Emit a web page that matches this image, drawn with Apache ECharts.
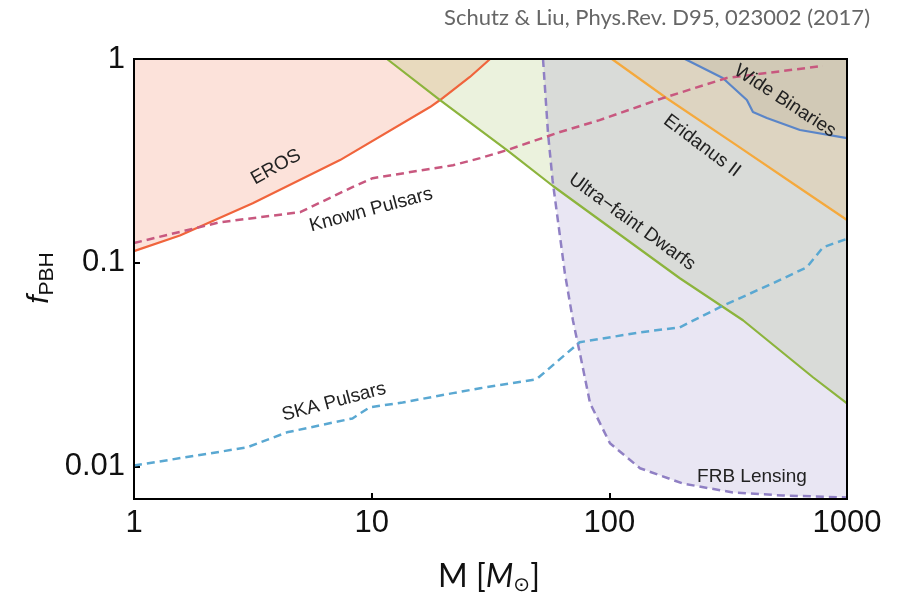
<!DOCTYPE html>
<html><head><meta charset="utf-8">
<script src="https://cdn.jsdelivr.net/npm/echarts@6.0.0/dist/echarts.min.js"></script>
<style>html,body{margin:0;padding:0;background:#fff}#c{width:898px;height:595px}</style>
</head><body><div id="c"></div>
<script>
// ---- data (mass in solar masses, f_PBH) ----
const erosM = [1, 1.56, 3.16, 7.36, 17.6, 19.4, 25.9, 31.5];
const erosF = [0.114, 0.136, 0.196, 0.319, 0.581, 0.629, 0.816, 1.0];

const ufdM = [11.6, 19.4, 37.1, 57.9, 198, 365, 719, 1000];
const ufdF = [1.0, 0.629, 0.357, 0.238, 0.0839, 0.0522, 0.0274, 0.0204];

const eriM = [102.5, 175, 340, 634, 1000];
const eriF = [1.0, 0.64, 0.38, 0.232, 0.162];

const wideM = [208, 300, 379, 402, 460, 634, 1000];
const wideF = [1.0, 0.807, 0.629, 0.549, 0.513, 0.448, 0.409];

const frbM = [52.6, 55.2, 57.7, 65, 70.3, 75.2, 83, 100.6, 134.6, 204, 331, 537, 1000];
const frbF = [1.0, 0.433, 0.254, 0.0888, 0.052, 0.0359, 0.0204, 0.0130, 0.0098, 0.00824, 0.00745, 0.0072, 0.00704];

const knownM = [1, 2.3, 5.0, 8.3, 10.1, 22, 28.6, 37.1, 62, 91, 168, 312, 460, 792];
const knownF = [0.125, 0.158, 0.177, 0.235, 0.26, 0.301, 0.326, 0.357, 0.438, 0.501, 0.643, 0.807, 0.854, 0.924];

const skaM = [1, 2.99, 4.4, 8.3, 9.8, 13.5, 22, 28.6, 49.4, 75, 134.6, 198, 292, 488, 678, 792, 1000];
const skaF = [0.0101, 0.0124, 0.0147, 0.0172, 0.0195, 0.0206, 0.0229, 0.0242, 0.0268, 0.0407, 0.0455, 0.0482, 0.0605, 0.0793, 0.095, 0.119, 0.131];

const xTicks = [1, 10, 100, 1000];
const yTicks = [0.01, 0.1, 1];
const xRange = [1, 1000];
const yRange = [0.00692, 1];

// ---- helpers ----
const lg = Math.log10;
function pts(M, F) { return M.map((m, i) => [lg(m), lg(F[i])]); }
function fmt(v) {
  const p = Math.round(v);
  const n = Math.pow(10, p);
  return p < 0 ? n.toFixed(-p) : String(n);
}

function fill(M, F, color) {
  return { type: 'line', data: pts(M, F), symbol: 'none', silent: true, z: 1,
    lineStyle: { width: 0, opacity: 0 }, areaStyle: { color: color, origin: 'end' } };
}
function line(M, F, color, width, dash) {
  return { type: 'line', data: pts(M, F), symbol: 'none', silent: true, z: 3,
    lineStyle: { color: color, width: width, type: dash ? dash : 'solid' } };
}

const chart = echarts.init(document.getElementById('c'), null, { renderer: 'canvas' });

const annFont = '19px "Liberation Sans", Arial, sans-serif';
function ann(text, x, y, deg) {
  return { type: 'text', x: x, y: y, rotation: deg * Math.PI / 180, z: 10,
    style: { text: text, font: annFont, fill: '#222', align: 'center', verticalAlign: 'middle',
      textAlign: 'center', textVerticalAlign: 'middle' } };
}

const option = {
  animation: false,
  backgroundColor: '#fff',
  grid: { left: 134, right: 51, top: 59, bottom: 96, show: true, borderColor: '#000', borderWidth: 2, z: 5 },
  xAxis: {
    type: 'value', position: 'bottom', min: lg(xRange[0]), max: lg(xRange[1]),
    axisLine: { show: true, onZero: false, lineStyle: { color: '#000', width: 2 } },
    axisTick: { show: true, inside: true, length: 6, lineStyle: { color: '#000', width: 2 }, customValues: xTicks.map(lg) },
    axisLabel: { customValues: xTicks.map(lg), formatter: v => fmt(v), fontFamily: '"Liberation Sans", Arial, sans-serif', fontSize: 31, color: '#111', margin: 9 },
    splitLine: { show: false }
  },
  yAxis: {
    type: 'value', position: 'left', min: lg(yRange[0]), max: lg(yRange[1]),
    axisLine: { show: true, onZero: false, lineStyle: { color: '#000', width: 2 } },
    axisTick: { show: true, inside: true, length: 6, lineStyle: { color: '#000', width: 2 }, customValues: yTicks.map(lg) },
    axisLabel: { customValues: yTicks.map(lg), formatter: v => fmt(v), fontFamily: '"Liberation Sans", Arial, sans-serif', fontSize: 31, color: '#111', margin: 9 },
    splitLine: { show: false }
  },
  series: [
    fill(erosM, erosF, 'rgba(240,100,60,0.27)'),
    fill(ufdM, ufdF, 'rgba(140,180,60,0.25)'),
    fill(frbM, frbF, 'rgba(150,135,200,0.3)'),
    fill(eriM, eriF, 'rgba(245,170,60,0.2)'),
    fill(wideM, wideF, 'rgba(110,110,90,0.15)'),
    line(erosM, erosF, '#f0643c', 2.2),
    line(ufdM, ufdF, '#8cb43c', 2.2),
    line(eriM, eriF, '#f5a93c', 2.2),
    line(wideM, wideF, '#5a85c8', 2.2),
    line(frbM, frbF, '#9080c4', 2.5, [8, 5]),
    line(knownM, knownF, '#c8587f', 2.5, [8, 5]),
    line(skaM, skaF, '#5aa8d2', 2.5, [8, 5])
  ],
  graphic: [
    { type: 'text', right: 28, top: 7, z: 10,
      style: { text: 'Schutz & Liu, Phys.Rev. D95, 023002 (2017)', font: '22px Lato, "Open Sans", sans-serif', fill: '#666' } },
    { type: 'text', x: 489, y: 577, z: 10,
      style: { text: '{n|M [}{i|M}{s|⊙}{n|]}', align: 'center', verticalAlign: 'middle',
        rich: {
          n: { fontFamily: 'Lato, "Open Sans", sans-serif', fontSize: 32, fill: '#111', color: '#111' },
          i: { fontFamily: 'Lato, "Open Sans", sans-serif', fontSize: 32, fontStyle: 'italic', fill: '#111', color: '#111' },
          s: { fontFamily: '"DejaVu Sans", sans-serif', fontSize: 20, fill: '#111', color: '#111', padding: [18, 0, 0, 0] }
        } } },
    { type: 'text', x: 40, y: 278, rotation: Math.PI / 2, z: 10,
      style: { text: '{f|f}{s|PBH}', align: 'center', verticalAlign: 'middle',
        rich: {
          f: { fontFamily: '"Liberation Sans", Arial, sans-serif', fontSize: 30, fontStyle: 'italic', fill: '#111', color: '#111' },
          s: { fontFamily: '"Liberation Sans", Arial, sans-serif', fontSize: 21, fill: '#111', color: '#111', padding: [14, 0, 0, 0] }
        } } },
    ann('EROS', 276, 167, 29),
    ann('Known Pulsars', 371, 210, 15),
    ann('SKA Pulsars', 334, 402, 15),
    ann('Ultra\u2212faint Dwarfs', 632, 222, -36),
    ann('Eridanus II', 702, 146, -37),
    ann('Wide Binaries', 785, 101, -33),
    ann('FRB Lensing', 752, 477, 0)
  ]
};
chart.setOption(option);
</script>
</body></html>
